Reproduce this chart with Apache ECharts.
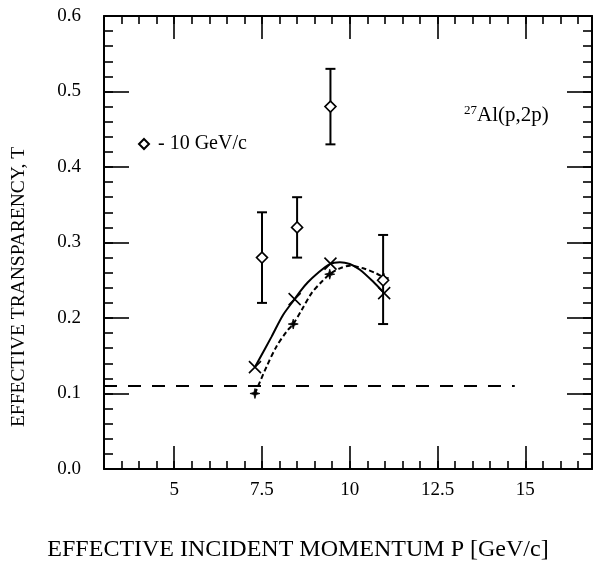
<!DOCTYPE html>
<html><head><meta charset="utf-8">
<script src="https://cdn.jsdelivr.net/npm/echarts@6/dist/echarts.min.js"></script>
<style>html,body{margin:0;padding:0;background:#fff}#c{width:594px;height:566px}</style>
</head><body><div id="c"></div>
<script>
// ---- data ----
const xTickLabels = [5, 7.5, 10, 12.5, 15];
const yTickLabels = [0, 0.1, 0.2, 0.3, 0.4, 0.5, 0.6];
// measured (diamonds with error bars)
const dataP = [7.5, 8.5, 9.45, 10.95];
const dataT = [0.28, 0.32, 0.48, 0.25];
const dataLow = [0.22, 0.28, 0.43, 0.192];
const dataHigh = [0.34, 0.36, 0.53, 0.31];
// model points (crosses, solid curve)
const crossP = [7.3, 8.43, 9.45, 10.98];
const crossT = [0.135, 0.225, 0.272, 0.233];
// model points (stars, dotted curve)
const starP = [7.3, 8.39, 9.43, 10.97];
const starT = [0.100, 0.192, 0.258, 0.253];
// solid curve
const solidP = [7.3, 7.77, 8.1, 8.43, 8.6, 8.8, 9.05, 9.43, 9.72, 10.0, 10.29, 10.67, 10.98];
const solidT = [0.135, 0.175, 0.204, 0.225, 0.236, 0.247, 0.258, 0.2715, 0.274, 0.2715, 0.264, 0.248, 0.233];
// dotted curve
const dotP = [7.3, 7.63, 7.91, 8.2, 8.39, 8.63, 8.91, 9.2, 9.43, 9.72, 10.0, 10.38, 10.76, 10.98];
const dotT = [0.100, 0.1355, 0.162, 0.182, 0.192, 0.2106, 0.2327, 0.248, 0.258, 0.2658, 0.2693, 0.2658, 0.259, 0.253];
// dashed horizontal level
const flatP = [3, 14.7];
const flatT = [0.11, 0.11];

const FONT = 'Liberation Serif';
const BLACK = '#000';
const zip = (a, b) => a.map((v, i) => [v, b[i]]);

const chart = echarts.init(document.getElementById('c'), null, {renderer: 'canvas'});

function xAxisDef(position, major, showLabels) {
  const a = {
    type: 'value', min: 3, max: 16.9, position: position,
    splitLine: {show: false},
    axisLine: {show: !major, onZero: false, lineStyle: {color: BLACK, width: 2}},
    axisTick: {inside: true, length: major ? 23 : 8, lineStyle: {color: BLACK, width: 1.6}},
    axisLabel: {show: false}
  };
  if (major) {
    a.axisTick.customValues = xTickLabels;
    if (showLabels) {
      a.axisLabel = {show: true, customValues: xTickLabels, formatter: v => String(v),
        fontFamily: FONT, fontSize: 19, color: BLACK, margin: 12};
    }
  } else {
    a.interval = 0.5;
  }
  return a;
}
function yAxisDef(position, major, showLabels) {
  const a = {
    type: 'value', min: 0, max: 0.6, position: position,
    interval: major ? 0.1 : 0.02,
    splitLine: {show: false},
    axisLine: {show: !major, onZero: false, lineStyle: {color: BLACK, width: 2}},
    axisTick: {inside: true, length: major ? 25 : 9, lineStyle: {color: BLACK, width: 1.6}},
    axisLabel: {show: false}
  };
  if (major && showLabels) {
    a.axisLabel = {show: true, formatter: v => v.toFixed(1),
      fontFamily: FONT, fontSize: 19, color: BLACK, margin: 23};
  }
  return a;
}

const option = {
  backgroundColor: '#fff',
  animation: false,
  grid: {left: 104, right: 2, top: 16, bottom: 97, containLabel: false},
  xAxis: [
    xAxisDef('bottom', false, false),
    xAxisDef('bottom', true, true),
    xAxisDef('top', false, false),
    xAxisDef('top', true, false)
  ],
  yAxis: [
    yAxisDef('left', false, false),
    yAxisDef('left', true, true),
    yAxisDef('right', false, false),
    yAxisDef('right', true, false)
  ],
  legend: {
    show: true, left: 133, top: 129, selectedMode: false,
    itemWidth: 10, itemHeight: 10,
    data: [{name: '- 10 GeV/c', icon: 'diamond'}],
    textStyle: {fontFamily: FONT, fontSize: 20, color: BLACK, padding: [0, 0, 0, 4]}
  },
  title: {
    text: '{s|27}{m|Al(p,2p)}', left: 464, top: 104, padding: 0,
    textStyle: {
      fontWeight: 'normal',
      rich: {
        s: {fontFamily: FONT, fontSize: 13, fontWeight: 'normal', color: BLACK, lineHeight: 12, verticalAlign: 'top'},
        m: {fontFamily: FONT, fontSize: 21, fontWeight: 'normal', color: BLACK, lineHeight: 22}
      }
    }
  },
  graphic: [
    {type: 'text', x: 298, y: 550, silent: true,
      style: {text: 'EFFECTIVE INCIDENT MOMENTUM P [GeV/c]', font: '24px "Liberation Serif"',
        fill: BLACK, align: 'center', verticalAlign: 'middle', textAlign: 'center', textVerticalAlign: 'middle'}},
    {type: 'text', x: 19, y: 287, rotation: Math.PI / 2, silent: true,
      style: {text: 'EFFECTIVE TRANSPARENCY, T', font: '19.5px "Liberation Serif"',
        fill: BLACK, align: 'center', verticalAlign: 'middle', textAlign: 'center', textVerticalAlign: 'middle'}}
  ],
  series: [
    {type: 'line', name: 'level', data: zip(flatP, flatT), symbol: 'none', silent: true,
      lineStyle: {color: BLACK, width: 2, type: [13, 11]}, z: 2},
    {type: 'line', name: 'solid', data: zip(solidP, solidT), symbol: 'none', smooth: 0.3, silent: true,
      lineStyle: {color: BLACK, width: 2}, z: 3},
    {type: 'line', name: 'dotted', data: zip(dotP, dotT), symbol: 'none', smooth: 0.3, silent: true,
      lineStyle: {color: BLACK, width: 2, type: [5, 3]}, z: 3},
    {type: 'scatter', name: 'cross', data: zip(crossP, crossT), silent: true,
      symbol: 'path://M0,0L10,10M10,0L0,10', symbolSize: 12,
      itemStyle: {color: BLACK, borderColor: BLACK, borderWidth: 1.6, opacity: 1}, z: 5},
    {type: 'scatter', name: 'star', data: zip(starP, starT), silent: true,
      symbol: 'path://M5,0L6.1,3.9L10,5L6.1,6.1L5,10L3.9,6.1L0,5L3.9,3.9Z', symbolSize: 10,
      itemStyle: {color: BLACK, borderColor: BLACK, borderWidth: 0.8, opacity: 1}, z: 5},
    {type: 'custom', name: 'errors', silent: true, z: 6,
      data: dataP.map((p, i) => [p, dataLow[i], dataHigh[i]]),
      encode: {x: 0, y: [1, 2]},
      renderItem: function (params, api) {
        const lo = api.coord([api.value(0), api.value(1)]);
        const hi = api.coord([api.value(0), api.value(2)]);
        const hw = 5;
        const st = {stroke: BLACK, lineWidth: 2};
        return {type: 'group', children: [
          {type: 'line', shape: {x1: lo[0], y1: lo[1], x2: hi[0], y2: hi[1]}, style: st},
          {type: 'line', shape: {x1: lo[0] - hw, y1: lo[1], x2: lo[0] + hw, y2: lo[1]}, style: st},
          {type: 'line', shape: {x1: hi[0] - hw, y1: hi[1], x2: hi[0] + hw, y2: hi[1]}, style: st}
        ]};
      }},
    {type: 'scatter', name: '- 10 GeV/c', data: zip(dataP, dataT), silent: true,
      symbol: 'diamond', symbolSize: 11,
      itemStyle: {color: '#fff', borderColor: BLACK, borderWidth: 1.6, opacity: 1}, z: 7}
  ]
};
chart.setOption(option);
</script>
</body></html>
